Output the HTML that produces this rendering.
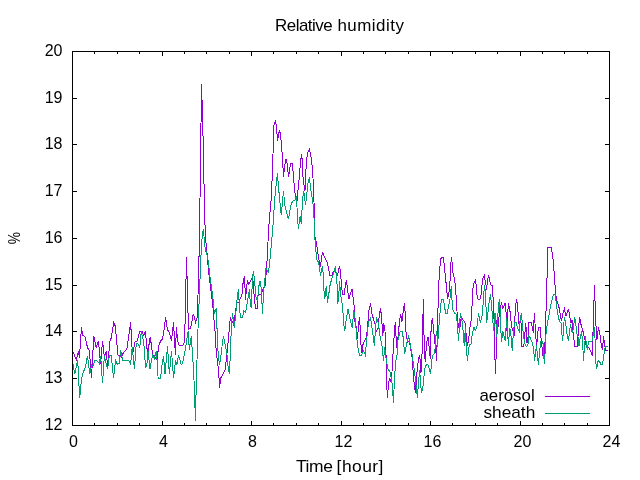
<!DOCTYPE html>
<html><head><meta charset="utf-8"><title>Relative humidity</title>
<style>
html,body{margin:0;padding:0;background:#fff;}
body{width:640px;height:480px;overflow:hidden;}
svg{display:block;}
text{font-family:"Liberation Sans", sans-serif;font-size:16px;fill:#000;}
</style></head><body>
<svg width="640" height="480" viewBox="0 0 640 480">
<rect width="640" height="480" fill="#fff"/>
<g fill="none" stroke-width="1" shape-rendering="crispEdges" stroke-linejoin="miter">
<polyline stroke="#9400d3" points="73.1,352 76.25,360 78.5,351 79.4,357.5 81.5,327.5 82.5,335 85,337 87.5,347.5 89.4,351 91.5,378 93.75,336 96.25,347.5 98.5,341 100.6,364 102.5,341 104.4,357.5 106.25,351 107.5,365.6 110,341 111.25,338 113.75,322.5 115.25,326 118,355 121.25,357 123.75,352 126.9,349 130.6,322.5 132.5,355 135,342 137,341 140,331 142,331 143.75,335.6 145.4,331 147.5,353.75 150.25,337 152.75,355 154.4,355.6 156.9,360 158.75,346 160.6,341 162.5,338.75 163.75,332.5 165.6,317.5 167.5,330 169.4,332.5 171.5,340.6 173.5,322.5 175.4,355 176.4,327.5 177.75,341 179.4,346 182.5,345.6 184.6,342 186.5,257 188.4,327 188.8,329 190.6,328 193.3,314 194.4,317.5 195.6,322 197.25,317.5 197.5,309 198.5,281 199.5,233 200.5,164 201.5,84 202.5,114 203.5,156 204.5,210 205.3,234 205.9,242 206.5,246.5 207.5,259.5 208.4,270 209.3,278 210.4,286 211.6,295 212.6,303.75 213.5,314 214.3,324 215,331 216.25,352.5 217.5,361 218.75,373.75 219.6,388 220.6,377.5 221.25,377.5 225,370 226.25,360 227.5,348.75 228.75,333.75 229.4,328.75 230.25,317.5 231.9,320.6 233.75,325 235.6,310 236.9,303 238.75,302.5 240,298.75 241.9,295.6 243.1,282.5 244.4,275.6 245.6,300 246.5,286.25 247.75,281.25 249,284.4 250.6,280.6 252.75,277.5 254.4,299.4 255.6,308 257.25,308 258.1,294.4 261.25,294.4 263.1,288.75 265,286.25 266.5,270 267.5,253 268.5,231 269.5,217 270.5,208 271.5,194 272.5,169 273.5,139 273.95,125.5 274.6,123 275.5,121.3 276.5,126.25 277.5,140.6 279.4,130 280.6,135 281.5,145 282.5,158 283.5,177 285,163.75 286,159.4 287.25,164 288.5,177 290.6,163 292.25,163 293.1,172 294.4,188 295.6,197.5 296.9,202.5 298.1,189.4 299.4,175.6 300.6,161.5 301.6,154.4 302.5,162.5 303.1,180 305,190.6 306.25,163.75 307.5,153 309.4,149.4 310.6,153.75 311.5,160 312.5,169 313.5,187.5 314.4,214 314.95,236.5 315.5,238.5 316.5,244 317.5,250.5 318.5,257 319.5,262 320.4,266.5 321.5,259 322.5,252 323.5,254.7 324.5,257 325.5,259.4 326.5,260.8 327.5,263 328.75,269.4 329.75,275 331.9,275 333.1,272 334.75,270.6 336.25,273 337.5,275 339.4,266.25 340.6,272 341.5,286.25 342.5,294.4 344.4,294.4 345.4,283.75 346.5,280.6 347.75,291.25 348.75,299.4 350.6,293 352.25,288.75 353.1,297.5 354.4,308.75 355,322 356.25,327.5 357.5,338.75 358.5,325 359.4,317.5 360.25,327.5 361,345 361.9,353 363.1,343.75 364.4,341.25 366,338 367.25,331.25 368.75,311.25 370.6,303.5 371.9,313.75 373.75,320 375.6,326.25 376.25,332 378.1,327.5 379.4,313.75 380.6,308 381.9,322 382.75,336.25 383.75,323 385,331.25 385.6,345 386.3,362.5 386.5,381.25 387.5,397.5 388.5,382.5 389.75,378 390.6,382 391.9,373.75 392.5,362 393.3,350 394.4,332 395.25,322.5 396,336.25 396.9,348 398.1,336.25 399.4,322.5 400.6,313.75 401.9,322 403.5,308.75 404.4,303.5 405.25,313.75 406,332 407.5,342 409.4,341.25 410.6,348.5 411.9,355.6 413,370 414.2,384 415.4,392.5 416.5,379 417.5,366.25 418.6,358.5 419.75,355.6 421,372.5 421.9,358.75 422.9,318 423.5,299.4 423.9,331.5 424.6,353 425.2,362 425.8,353 426.8,342 428.2,336.6 429.5,352 430.3,359 431.1,328.5 432.3,317.6 433.3,326 434.5,340 436,353 436.6,360.5 437.5,327 438.5,290 439.5,271 440.5,260.5 441.25,257.5 443.5,257.5 444.4,267.5 445.6,278 446.9,292 447.75,298.75 449,292 450,281.25 450.6,265 451.5,257.5 452.25,264.4 453.1,274.4 454.4,278 455.6,287.5 456.25,300 457.5,318.75 458.5,327.5 460,327.5 461.25,317 463.1,320 465,322.5 466,332.5 466.9,341.25 467.6,346.25 469,336.25 470,327.5 471.25,320 471.9,308.75 472.5,293 473.5,284 475.25,280.6 476.25,285 476.9,295 478.1,299.4 480,299.4 481.25,293.75 482.25,282.5 483.1,278 484.4,275.6 485,280 486,285 486.5,290 487.5,280 488.5,275.6 489.75,280 490.6,285 492.5,285.6 493.1,298.75 493.8,312.5 494.4,331.25 494.9,357 495.5,374.4 496.1,357 496.6,331 497.3,313 498.1,327 499.7,309 501.6,303.6 502.8,308 504,306 505.2,302.8 506.25,315 507,331 508.3,302.8 509.8,309 510.6,318.4 511.9,327.8 513.4,332.5 514.2,336 515.3,309 516.4,299 517.7,306 518.4,320 519.2,324.7 520.8,318.4 521.2,327.5 521.6,346.6 523.6,346.6 524.7,340.3 525.4,323 526.2,328 527,343 528.1,336 529,322.5 531.4,322.5 532.5,328.6 533.2,332.5 534.5,313 535.5,333 536.6,345.5 537.2,340 537.6,333.75 538.5,327.5 540,327.5 541,338 541.5,342.5 542.5,351.5 543,355.8 543.9,355.8 544.5,348.5 545.2,340 545.5,328 546.5,295.5 547.5,261 547.5,247.5 551.5,247.5 551.6,250 552.5,254.5 553.5,264 554.5,278 555.5,292 556.3,299 557.5,302.5 559.4,308.75 560.6,316.25 561.5,321.25 562.75,313.75 564.4,308.75 566,316.25 567.25,312.5 568.5,308.75 569.75,317 571,323 572.25,320 573.1,333 574.75,346.25 577.5,346.25 578.5,326.25 579.75,317.5 581,324.4 582.5,329.4 584,335.6 585,340 586.25,346 588.75,347.5 590.6,351.25 592.25,355.6 592.7,341 593.1,330 593.95,302 594.4,285 595.02,301.6 595.9,325 596.3,330 596.9,340 597.5,333.75 598.5,327.5 600,335 601.25,345 602.5,350 603.5,336.25 604.4,342.5 605.6,350.6 607.5,350.6"/>
<polyline stroke="#009e73" points="73.1,363.75 74.75,374.4 76.25,366.9 77.75,360 78.5,377.5 79.75,397.5 81.5,378.75 83.1,373 85.6,366 87.5,355.6 89.75,374.4 91.5,365 93.1,366 95,360 96.9,360.6 99.4,363.75 100.6,355.6 102.5,383 104.4,356 107.5,369.4 109.4,355.6 111.25,355.6 113.5,378 115.6,360.6 117.5,364.4 119.4,363 120.6,350 122.5,360 128.75,360 130.6,364.4 132.25,346.9 134.4,369.4 136.25,343.75 138,344 139.75,347.5 141.25,331 142.5,337.5 143.75,342 145.6,368 146.9,363.75 148.1,351.25 150,368.75 152.5,355 154.4,358.75 156.5,350.6 158.1,378 160.6,378 161.8,366 163.5,355.6 165,374.4 167.5,346.25 169.4,374.4 171.5,350.6 173.5,378 175.6,360.6 176.9,365 178.5,355 181.25,364.4 182.5,363.75 185,351.25 188.1,331.25 189.4,350 191.25,336.25 192.5,353.75 193.5,370 194.5,390 195.4,420.6 195.9,399 196.5,378 197.5,342 198.5,316 199.5,293 200.5,266 201.5,244 202.5,234 203.5,229 204.5,243.5 205.5,250 206.5,253 207.5,257 208.5,263.5 210,277 211.25,286 212.5,295 213.5,303.75 214.4,313.75 216.5,308 216.9,328.75 217.5,328.75 218.1,355 219.4,363.75 220,362.5 221.25,353.75 222.5,342 223.5,336.25 225,343.75 226.9,353.75 228.1,367.5 229.4,374.4 230.6,348.75 231.25,328.75 232.5,313 234.4,327.5 237.5,295 238.5,289.4 239.4,307.5 240.6,317.5 242.5,317.5 243.75,311.25 245.6,312.5 246.9,305 249.4,289.4 250.25,303 251.25,308 252.5,277.5 253.5,271.25 255,285.6 256.25,299.4 257.5,300.6 259,285.6 260.25,280.6 261.25,289.4 262.5,313.75 263.5,292.5 264.75,281.25 266,268 268.1,272.5 269.5,265 270.5,253 271.5,243 272.5,232 273.5,218 274.5,203 275.5,190 276.5,181.5 277.5,173 278.1,182 279.4,197 281.25,215 283.5,191.25 285,206.25 288.5,219.4 290.6,206.25 292.5,201.25 295,200 296.5,196.25 297.5,218 298.5,229.4 299.4,220 300.4,216 301.25,223.75 301.9,212 302.5,200 303.75,191.25 305.6,205 308.1,182 309.4,177.5 310.6,188.75 311.9,196.25 313.5,208 314.5,228 314.98,240 315.5,246.7 316.5,257.4 317.2,261.5 318.5,261.5 319.4,268 320.6,275.6 322.25,266.25 323.5,276.25 324,291.25 324.75,299.4 326.25,285.6 327.5,303 328.75,294.4 330,285.6 331.9,278 333.75,273 335.4,266.25 336.9,281.25 337.75,303.75 338.5,298.75 339.6,281.25 340.6,294.4 341.9,302.5 342.75,309.4 343.75,324.4 344.75,331.25 346.25,318.75 348.1,308.75 350,318.75 352.25,327.5 353.75,310 355,317.5 356,327.5 356.9,339.4 358.1,348.75 359.4,355 361.5,355 363.5,351 365.3,355 366.25,345 367.5,331.25 368.75,321.25 370.6,317.5 371.9,327.5 373.1,335.6 374.4,346.25 375.4,330 376.5,317.5 378.1,322 379.4,331.25 380.25,337.5 381.9,345 383.5,360.6 384.75,347.5 386.5,362 388.1,369.4 390,372 391.25,377.5 392.25,385 393.5,402.5 394.4,380 395.6,362.5 397.2,353.75 398.1,338.75 400,332 402.25,331.25 403.1,337 404.6,353.5 405.5,350 406.9,342 408.75,336.25 409.75,341.25 410.6,346.25 411.9,353.75 413.1,361.25 414.4,371.25 415.6,380 416.5,390 417.5,397.5 418.5,381.25 419.75,370 420.6,385 421.5,392.5 422.75,388.75 423.75,378.75 424.75,368.75 426.5,364.4 428.1,365 429.75,370.6 430.6,374.4 431.5,362.5 432.75,355 434.8,353 435.5,338 436.9,331.25 437.6,347 438.4,331 439.75,317 440.6,304.4 441.9,299.4 443.5,299.4 444.4,305 445.6,313.75 447.25,313.75 448.5,306.25 450,298.75 450.6,291.25 451.5,285.6 451.9,298 452.5,308.75 454.4,313 456,313.75 457.25,322.5 458.5,341.25 459.4,327.5 460.4,313 461.5,318 462.75,325 463.5,339.4 464.5,346.25 465.25,327.5 466.5,351.25 467.5,360.6 468.5,350 469.4,344 471,344.5 472.5,332.5 474,327.5 475.25,330.6 476.9,327.5 477.75,320 478.5,313 479.75,320 480.6,321.75 481.9,317.5 482.75,308.75 483.75,293 484.75,285 485.6,297 486.25,313 486.7,322.5 488.1,311.25 489.4,299.4 490.6,294.4 491.25,302.5 492.25,313 493.1,323.75 493.75,331.25 495,313 496.25,326.25 496.9,337 498.1,310.6 499.4,299 500.2,310.6 500.9,331 501.6,342 502.8,331 504,335.6 505.2,341 506.7,317.7 507.5,326.25 508.3,345.5 509.8,327.8 510.6,331 512.2,350.5 513.4,332.5 514.5,322.3 516.1,322.3 517.7,328.6 519.2,331.7 520,321.6 521.25,313 522.3,323 523.4,335.6 524.7,343.4 526.25,346.6 527.8,345.8 529,335.6 530.6,338.75 532.5,343.4 533.5,349 534.4,358 534.6,360.8 535.5,353.4 536.4,345.5 537.5,355 538.4,365 539.5,353 540.5,344 540.7,341.25 542.9,341.25 543.5,353 544.5,364.4 545.3,348 546.25,330 548.75,316.25 551.25,302.5 553.5,294.4 555,294.4 556.25,302.5 557.5,312.5 559.4,321.25 561,323 561.9,333.75 562.75,341.25 563.5,327.5 564.4,317 565.6,323 566.9,333.75 568.5,341.25 569.4,332.5 570.6,324.4 572.25,333 573.5,327.5 574.75,317 575.6,323 576.9,333.75 578.1,337.5 579,346.25 580.25,337.5 581.5,331.25 582.5,340 583.5,360.6 584.5,346 585.6,336.25 586.5,346 587.5,350 588.5,341.25 591.9,341.25 592.75,337.5 594.4,327.5 595,338 595.6,358.75 596.5,369.4 597.5,365 598.1,360.6 600,362.5 601,364.4 602.5,364.4 603.5,357.5 604.4,351.25 605.25,346.25 607.5,346.25"/>
<path stroke="#9400d3" d="M545,396.5H590"/>
<path stroke="#009e73" d="M545,413.5H590"/>
<path stroke="#000" d="M72.5,425.5v-4.5M72.5,51.5v4.5M94.5,425.5v-2.5M94.5,51.5v2.5M117.5,425.5v-2.5M117.5,51.5v2.5M139.5,425.5v-2.5M139.5,51.5v2.5M162.5,425.5v-4.5M162.5,51.5v4.5M184.5,425.5v-2.5M184.5,51.5v2.5M206.5,425.5v-2.5M206.5,51.5v2.5M229.5,425.5v-2.5M229.5,51.5v2.5M251.5,425.5v-4.5M251.5,51.5v4.5M273.5,425.5v-2.5M273.5,51.5v2.5M296.5,425.5v-2.5M296.5,51.5v2.5M318.5,425.5v-2.5M318.5,51.5v2.5M341.5,425.5v-4.5M341.5,51.5v4.5M363.5,425.5v-2.5M363.5,51.5v2.5M385.5,425.5v-2.5M385.5,51.5v2.5M408.5,425.5v-2.5M408.5,51.5v2.5M430.5,425.5v-4.5M430.5,51.5v4.5M452.5,425.5v-2.5M452.5,51.5v2.5M475.5,425.5v-2.5M475.5,51.5v2.5M497.5,425.5v-2.5M497.5,51.5v2.5M520.5,425.5v-4.5M520.5,51.5v4.5M542.5,425.5v-2.5M542.5,51.5v2.5M564.5,425.5v-2.5M564.5,51.5v2.5M587.5,425.5v-2.5M587.5,51.5v2.5M609.5,425.5v-4.5M609.5,51.5v4.5M72.5,425.5h4.5M609.5,425.5h-4.5M72.5,378.5h4.5M609.5,378.5h-4.5M72.5,331.5h4.5M609.5,331.5h-4.5M72.5,285.5h4.5M609.5,285.5h-4.5M72.5,238.5h4.5M609.5,238.5h-4.5M72.5,191.5h4.5M609.5,191.5h-4.5M72.5,144.5h4.5M609.5,144.5h-4.5M72.5,98.5h4.5M609.5,98.5h-4.5M72.5,51.5h4.5M609.5,51.5h-4.5"/>
<rect stroke="#000" x="72.5" y="51.5" width="537.0" height="374.0"/>
</g>
<text transform="translate(275.00,31) scale(1.0600,1)" word-spacing="0.50"><tspan letter-spacing="-0.472">Relative</tspan> <tspan letter-spacing="0.448">humidity</tspan></text><text transform="translate(296.00,472) scale(1.0900,1)" word-spacing="-0.77"><tspan letter-spacing="-0.343">Time</tspan> <tspan letter-spacing="0.411">[hour]</tspan></text><text transform="translate(479.45,400.5) scale(1.0529,1)">aerosol</text><text transform="translate(483.42,417.5) scale(1.0804,1)">sheath</text>
<text transform="translate(20.1,238.1) rotate(-90) scale(0.86,1)" text-anchor="middle">%</text>
<text x="62.5" y="430.1" text-anchor="end">12</text><text x="62.5" y="383.1" text-anchor="end">13</text><text x="62.5" y="336.1" text-anchor="end">14</text><text x="62.5" y="290.1" text-anchor="end">15</text><text x="62.5" y="243.1" text-anchor="end">16</text><text x="62.5" y="196.1" text-anchor="end">17</text><text x="62.5" y="149.1" text-anchor="end">18</text><text x="62.5" y="103.1" text-anchor="end">19</text><text x="62.5" y="56.1" text-anchor="end">20</text><text x="73.5" y="447.2" text-anchor="middle">0</text><text x="163.5" y="447.2" text-anchor="middle">4</text><text x="252.5" y="447.2" text-anchor="middle">8</text><text x="343.4" y="447.2" text-anchor="middle">12</text><text x="432.4" y="447.2" text-anchor="middle">16</text><text x="522.4" y="447.2" text-anchor="middle">20</text><text x="611.4" y="447.2" text-anchor="middle">24</text>
</svg>
</body></html>
